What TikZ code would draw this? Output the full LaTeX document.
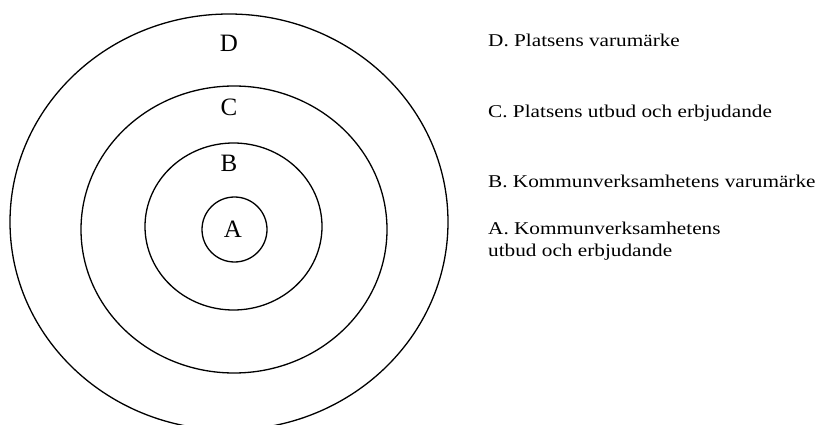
\documentclass[tikz,border=0pt]{standalone}
\usepackage{fontspec}
\setmainfont{Liberation Serif}
\newfontfamily\legendfont[FakeStretch=1.18]{Liberation Serif}
\begin{document}
\begin{tikzpicture}[x=1pt,y=-1pt,
  ring/.style={draw=black,line width=1.3pt},
  ringlabel/.style={font=\fontsize{25}{28}\selectfont,inner sep=0pt},
  legend/.style={font=\legendfont\fontsize{18}{21.7}\selectfont,anchor=base west,inner sep=0pt,align=left}]
  \useasboundingbox (0,0) rectangle (817,425);
  % concentric rings, outermost first
  \draw[ring] (229,222) ellipse [x radius=219,y radius=208];
  \draw[ring] (234,229.5) ellipse [x radius=153,y radius=143.5];
  \draw[ring] (233.5,226.5) ellipse [x radius=88.5,y radius=83.5];
  \draw[ring] (234.5,229.5) circle [radius=32.5];
  % ring letters
  \node[ringlabel] (lD) at (229,43) {D};
  \node[ringlabel] (lC) at (229,107) {C};
  \node[ringlabel] (lB) at (229,163) {B};
  \node[ringlabel] (lA) at (233,229) {A};
  % legend
  \node[legend] (tD) at (488,46.3) {D. Platsens varumärke};
  \node[legend] (tC) at (488,117.5) {C. Platsens utbud och erbjudande};
  \node[legend] (tB) at (488,187.5) {B. Kommunverksamhetens varumärke};
  \node[legend] (tA) at (488,256) {A. Kommunverksamhetens\\utbud och erbjudande};
\end{tikzpicture}
\end{document}
